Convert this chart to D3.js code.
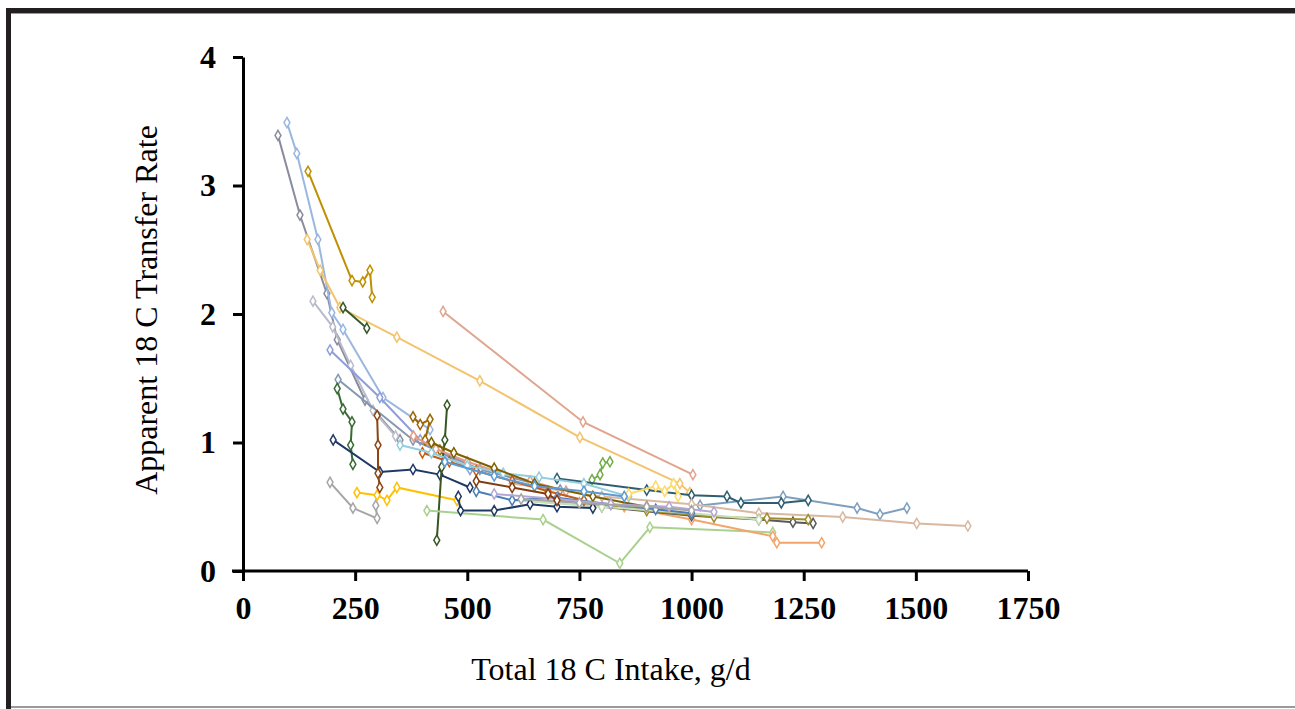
<!DOCTYPE html>
<html>
<head>
<meta charset="utf-8">
<script src="https://cdn.jsdelivr.net/npm/d3@7"></script>
<style>
  html, body { margin: 0; padding: 0; background: #fff; }
  .tick text { font-family: "Liberation Serif", "DejaVu Serif", serif; font-weight: bold; }
  .axis-title { font-family: "Liberation Serif", "DejaVu Serif", serif; }
</style>
</head>
<body>
<div id="chart"></div>
<script>
// tick labels
const xTicks = [0, 250, 500, 750, 1000, 1250, 1500, 1750];
const yTicks = [0, 1, 2, 3, 4];

// one entry per cow / trial line: total 18 C intake (g/d)
const intake = [
  [78, 127, 187, 210, 272, 350],
  [98, 120, 167, 198, 223, 312, 417],
  [145, 243, 267, 283, 288],
  [143, 172, 216, 343, 528, 751, 974, 996],
  [446, 758, 1003],
  [223, 276],
  [156, 200, 240, 290, 340],
  [194, 305, 395, 506],
  [212, 379, 528, 707],
  [210, 223, 243, 240, 245],
  [201, 305, 379, 439, 506],
  [194, 245, 299, 296],
  [254, 299, 321, 343, 477],
  [299, 301, 301, 305],
  [455, 450, 443, 432],
  [379, 395, 417, 406, 439],
  [410, 669, 840, 907, 1181],
  [778, 796, 802, 818],
  [1019, 1204, 1369, 1420, 1480],
  [700, 900, 1000, 1079, 1110, 1200, 1260],
  [600, 800, 1000, 1150, 1337, 1502, 1616],
  [850, 1000, 1181, 1190, 1290],
  [800, 1000, 1150, 1226, 1271],
  [700, 900, 1050, 1168, 1260],
  [600, 800, 1000, 1150],
  [380, 430, 500, 560, 640, 720],
  [400, 460, 520, 600, 680, 760],
  [480, 485, 560, 640, 700, 780],
  [520, 600, 700, 820, 920, 1000],
  [350, 420, 500, 580, 660, 760, 860],
  [420, 470, 560, 650, 780, 900],
  [560, 700, 820, 950, 1050],
  [860, 920, 940, 960, 970],
  [450, 560, 650, 760, 850],
  [620, 750, 900, 1000],
  [520, 600, 680, 700]
];

// matching apparent 18 C transfer rate
const transfer = [
  [3.39, 2.77, 2.16, 1.80, 1.33, 1.02],
  [3.49, 3.25, 2.58, 2.01, 1.88, 1.35, 1.10],
  [3.11, 2.26, 2.25, 2.34, 2.13],
  [2.58, 2.34, 2.05, 1.82, 1.48, 1.04, 0.68, 0.61],
  [2.02, 1.16, 0.75],
  [2.05, 1.89],
  [2.10, 1.90, 1.60, 1.25, 1.05],
  [1.72, 1.35, 1.02, 0.79],
  [1.49, 1.02, 0.79, 0.63],
  [1.42, 1.26, 1.16, 0.98, 0.83],
  [1.02, 0.77, 0.79, 0.75, 0.65],
  [0.69, 0.49, 0.41, 0.51],
  [0.61, 0.59, 0.55, 0.65, 0.55],
  [1.21, 0.98, 0.76, 0.65],
  [1.29, 1.02, 0.81, 0.24],
  [1.20, 1.14, 1.18, 1.02, 0.94],
  [0.47, 0.40, 0.06, 0.34, 0.30],
  [0.71, 0.75, 0.84, 0.85],
  [0.51, 0.58, 0.49, 0.44, 0.49],
  [0.72, 0.63, 0.59, 0.58, 0.53, 0.53, 0.55],
  [0.68, 0.58, 0.52, 0.45, 0.42, 0.37, 0.35],
  [0.50, 0.40, 0.27, 0.22, 0.22],
  [0.50, 0.43, 0.40, 0.38, 0.37],
  [0.55, 0.47, 0.42, 0.41, 0.40],
  [0.55, 0.50, 0.45, 0.40],
  [1.05, 0.95, 0.85, 0.78, 0.70, 0.62],
  [0.92, 0.85, 0.78, 0.70, 0.62, 0.55],
  [0.58, 0.47, 0.47, 0.52, 0.50, 0.49],
  [0.62, 0.55, 0.57, 0.52, 0.48, 0.45],
  [0.98, 0.92, 0.82, 0.76, 0.73, 0.68, 0.58],
  [1.00, 0.92, 0.80, 0.68, 0.58, 0.50],
  [0.60, 0.56, 0.52, 0.50, 0.46],
  [0.60, 0.66, 0.62, 0.68, 0.58],
  [0.85, 0.74, 0.66, 0.62, 0.58],
  [0.56, 0.53, 0.50, 0.47],
  [0.70, 0.65, 0.60, 0.55]
];

const palette = [
  "#8a8c9e", "#9ab7e0", "#bf9000", "#f2c46e", "#e0a58e", "#38592a", "#b9bccb",
  "#8e9fd8", "#8497b0", "#3a6b35", "#1f3864", "#a6a6a6", "#ffc000", "#8b4513",
  "#375623", "#9c6500", "#a9d18e", "#70ad47", "#7f9fbf", "#2e5e70", "#d9b8a0",
  "#f4a46a", "#595959", "#a08c30", "#c5e0b4", "#e49b82", "#c55a11", "#203864",
  "#4a7ebb", "#93cddd", "#7f6000", "#b4a7d6", "#ffd966", "#5b9bd5", "#a5a5a5",
  "#843c0c"
];

const width = 1295, height = 709;

const svg = d3.select("#chart")
    .append("svg")
    .attr("width", width)
    .attr("height", height);

// picture frame
svg.append("rect").attr("x", 6).attr("y", 8).attr("width", width - 6).attr("height", 5).attr("fill", "#231f20");
svg.append("rect").attr("x", 6).attr("y", 8).attr("width", 5).attr("height", height - 8).attr("fill", "#231f20");
svg.append("rect").attr("x", 11).attr("y", 13).attr("width", width - 11).attr("height", 1).attr("fill", "#9a9a9a");
svg.append("rect").attr("x", 11).attr("y", 706).attr("width", width - 11).attr("height", 2).attr("fill", "#9a9a9a");

const x = d3.scaleLinear().domain([0, 1750]).range([243, 1028]);
const y = d3.scaleLinear().domain([0, 4]).range([571, 57]);

const xAxis = svg.append("g")
    .attr("transform", `translate(0, ${y(0)})`)
    .call(d3.axisBottom(x).tickValues(xTicks).tickFormat(d3.format("d"))
        .tickSize(10).tickPadding(15).tickSizeOuter(0));

const yAxis = svg.append("g")
    .attr("transform", `translate(${x(0)}, 0)`)
    .call(d3.axisLeft(y).tickValues(yTicks).tickFormat(d3.format("d"))
        .tickSize(10).tickPadding(17).tickSizeOuter(0));

[xAxis, yAxis].forEach(g => {
    g.select(".domain").attr("stroke", "#000").attr("stroke-width", 3);
    g.selectAll(".tick line").attr("stroke", "#000").attr("stroke-width", 3);
    g.selectAll(".tick text").attr("fill", "#000").style("font-size", "32px");
});
// x axis line runs out to the y tick ends
xAxis.select(".domain").attr("d", `M${x(0) - 11},0H${x(1750)}`);

// lines and markers
const line = d3.line().x(d => x(d[0])).y(d => y(d[1]));
const series = intake.map((xs, i) => xs.map((v, j) => [v, transfer[i][j]]));
const diamond = d3.symbol().type(d3.symbolDiamond).size(30);

const plot = svg.append("g");
series.forEach((pts, i) => {
    const g = plot.append("g");
    g.append("path")
        .attr("d", line(pts))
        .attr("fill", "none")
        .attr("stroke", palette[i])
        .attr("stroke-width", 2);
    g.selectAll("path.mark")
        .data(pts)
        .enter()
        .append("path")
        .attr("class", "mark")
        .attr("d", diamond)
        .attr("transform", d => `translate(${x(d[0])}, ${y(d[1])})`)
        .attr("fill", "#fff")
        .attr("stroke", palette[i])
        .attr("stroke-width", 1.5);
});

svg.append("text")
    .attr("class", "axis-title")
    .attr("x", 611)
    .attr("y", 680)
    .attr("text-anchor", "middle")
    .style("font-size", "32px")
    .text("Total 18 C Intake, g/d");

svg.append("text")
    .attr("class", "axis-title")
    .attr("transform", "translate(157, 310) rotate(-90)")
    .attr("text-anchor", "middle")
    .style("font-size", "32px")
    .text("Apparent 18 C Transfer Rate");
</script>
</body>
</html>
